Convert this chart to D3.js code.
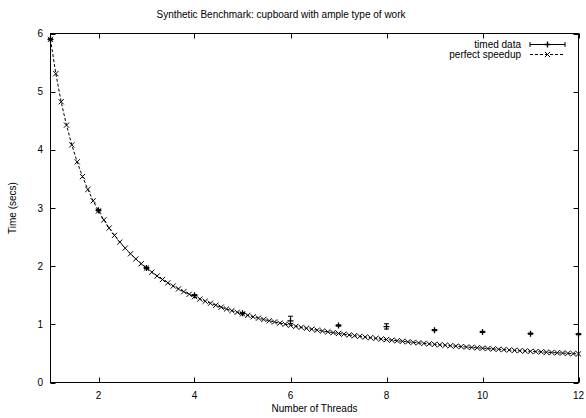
<meta charset='utf-8'>
<script src="https://d3js.org/d3.v7.min.js"></script>
<style>
body { margin: 0; background: #fff; }
text { font-family: 'Liberation Sans', Arial, sans-serif; font-size: 10px; fill: #000; }
</style>
<body></body>
<script>

// DATA
var xTicks = [2, 4, 6, 8, 10, 12];
var yTicks = [0, 1, 2, 3, 4, 5, 6];

// timed data (mean with low/high error)
var timedX    = [1, 2, 3, 4, 5, 6, 7, 8, 9, 10, 11, 12];
var timedY    = [5.90, 2.96, 1.97, 1.50, 1.19, 1.06, 0.98, 0.96, 0.90, 0.87, 0.84, 0.83];
var timedLow  = [5.89, 2.95, 1.96, 1.49, 1.18, 1.01, 0.97, 0.92, 0.89, 0.86, 0.83, 0.82];
var timedHigh = [5.91, 2.97, 1.98, 1.51, 1.20, 1.14, 0.99, 1.01, 0.91, 0.88, 0.85, 0.84];

// perfect speedup samples
var perfX = [1, 1.111, 1.222, 1.333, 1.444, 1.556, 1.667, 1.778, 1.889,
    2, 2.111, 2.222, 2.333, 2.444, 2.556, 2.667, 2.778, 2.889,
    3, 3.111, 3.222, 3.333, 3.444, 3.556, 3.667, 3.778, 3.889,
    4, 4.111, 4.222, 4.333, 4.444, 4.556, 4.667, 4.778, 4.889,
    5, 5.111, 5.222, 5.333, 5.444, 5.556, 5.667, 5.778, 5.889,
    6, 6.111, 6.222, 6.333, 6.444, 6.556, 6.667, 6.778, 6.889,
    7, 7.111, 7.222, 7.333, 7.444, 7.556, 7.667, 7.778, 7.889,
    8, 8.111, 8.222, 8.333, 8.444, 8.556, 8.667, 8.778, 8.889,
    9, 9.111, 9.222, 9.333, 9.444, 9.556, 9.667, 9.778, 9.889,
    10, 10.111, 10.222, 10.333, 10.444, 10.556, 10.667, 10.778, 10.889,
    11, 11.111, 11.222, 11.333, 11.444, 11.556, 11.667, 11.778, 11.889,
    12];
var perfY = [5.900, 5.310, 4.827, 4.425, 4.085, 3.793, 3.540, 3.319, 3.124,
    2.950, 2.795, 2.655, 2.529, 2.414, 2.309, 2.213, 2.124, 2.042, 1.967,
    1.896, 1.831, 1.770, 1.713, 1.659, 1.609, 1.562, 1.517, 1.475, 1.435,
    1.397, 1.362, 1.328, 1.295, 1.264, 1.235, 1.207, 1.180, 1.154, 1.130,
    1.106, 1.084, 1.062, 1.041, 1.021, 1.002, 0.983, 0.965, 0.948, 0.932,
    0.916, 0.900, 0.885, 0.871, 0.857, 0.843, 0.830, 0.817, 0.805, 0.793,
    0.781, 0.770, 0.759, 0.748, 0.738, 0.727, 0.718, 0.708, 0.699, 0.690,
    0.681, 0.672, 0.664, 0.656, 0.648, 0.640, 0.632, 0.625, 0.617, 0.610,
    0.603, 0.597, 0.590, 0.584, 0.577, 0.571, 0.565, 0.559, 0.553, 0.547,
    0.542, 0.536, 0.531, 0.526, 0.521, 0.516, 0.511, 0.506, 0.501, 0.496,
    0.492];

// SETUP
var W = 586, H = 418;
var pL = 50.5, pR = 578.5, pT = 33.5, pB = 382.5;
var svg = d3.select('body').append('svg')
    .attr('width', W)
    .attr('height', H);

var x = d3.scaleLinear().domain([1, 12]).range([pL, pR]);
var y = d3.scaleLinear().domain([0, 6]).range([pB, pT]);
var tk = 5;

// TICKS (mirrored on all four sides, pointing inward)
var ticks = svg.append('g').attr('stroke', '#000').attr('stroke-width', 1);
xTicks.forEach(function (t) {
    var px = Math.round(x(t)) + 0.5;
    ticks.append('line').attr('x1', px).attr('x2', px).attr('y1', pB).attr('y2', pB - tk);
    ticks.append('line').attr('x1', px).attr('x2', px).attr('y1', pT).attr('y2', pT + tk);
    svg.append('text')
        .attr('x', x(t)).attr('y', pB + 16)
        .attr('text-anchor', 'middle')
        .text(t);
});
yTicks.forEach(function (t) {
    var py = Math.round(y(t)) + 0.5;
    ticks.append('line').attr('x1', pL).attr('x2', pL + tk).attr('y1', py).attr('y2', py);
    ticks.append('line').attr('x1', pR).attr('x2', pR - tk).attr('y1', py).attr('y2', py);
    svg.append('text')
        .attr('x', 43).attr('y', y(t) + 3.5)
        .attr('text-anchor', 'end')
        .text(t);
});

// BORDER
svg.append('rect')
    .attr('x', pL).attr('y', pT)
    .attr('width', pR - pL).attr('height', pB - pT)
    .attr('fill', 'none').attr('stroke', '#000').attr('stroke-width', 1);

// LABELS
svg.append('text')
    .attr('x', 281).attr('y', 18)
    .attr('text-anchor', 'middle')
    .text('Synthetic Benchmark: cupboard with ample type of work');
svg.append('text')
    .attr('x', (pL + pR) / 2).attr('y', 412)
    .attr('text-anchor', 'middle')
    .text('Number of Threads');
svg.append('text')
    .attr('transform', 'translate(16,' + ((pT + pB) / 2) + ') rotate(-90)')
    .attr('text-anchor', 'middle')
    .text('Time (secs)');

// marker helpers
function cross(g, cx, cy, s) {
    g.append('path')
        .attr('d', 'M' + (cx - s) + ',' + (cy - s) + 'L' + (cx + s) + ',' + (cy + s) +
                   'M' + (cx - s) + ',' + (cy + s) + 'L' + (cx + s) + ',' + (cy - s))
        .attr('stroke', '#000').attr('stroke-width', 1).attr('fill', 'none');
}
function plus(g, cx, cy, s) {
    g.append('path')
        .attr('d', 'M' + (cx - s) + ',' + cy + 'H' + (cx + s) + 'M' + cx + ',' + (cy - s) + 'V' + (cy + s))
        .attr('stroke', '#000').attr('stroke-width', 1.3).attr('fill', 'none');
}

var plot = svg.append('g');

// PERFECT SPEEDUP
var perf = perfX.map(function (d, i) { return [d, perfY[i]]; });
plot.append('path')
    .datum(perf)
    .attr('d', d3.line().x(function (d) { return x(d[0]); }).y(function (d) { return y(d[1]); }))
    .attr('fill', 'none')
    .attr('stroke', '#000')
    .attr('stroke-width', 1)
    .attr('stroke-dasharray', '3,2');
perf.forEach(function (d) { cross(plot, x(d[0]), y(d[1]), 2.6); });

// TIMED DATA with error bars
timedX.forEach(function (t, i) {
    var px = x(t), cap = 2.5;
    plot.append('path')
        .attr('d', 'M' + px + ',' + y(timedLow[i]) + 'V' + y(timedHigh[i]) +
                   'M' + (px - cap) + ',' + y(timedLow[i]) + 'H' + (px + cap) +
                   'M' + (px - cap) + ',' + y(timedHigh[i]) + 'H' + (px + cap))
        .attr('stroke', '#000').attr('stroke-width', 1).attr('fill', 'none');
    plus(plot, px, y(timedY[i]), 3);
});

// LEGEND
var lg = svg.append('g');
var lx1 = 530, lx2 = 565, lmid = (lx1 + lx2) / 2;
lg.append('text').attr('x', 521).attr('y', 47.5).attr('text-anchor', 'end').text('timed data');
lg.append('path')
    .attr('d', 'M' + lx1 + ',44.5H' + lx2 + 'M' + lx1 + ',42V47M' + lx2 + ',42V47')
    .attr('stroke', '#000').attr('stroke-width', 1).attr('fill', 'none');
plus(lg, lmid, 44.5, 3);
lg.append('text').attr('x', 521).attr('y', 58).attr('text-anchor', 'end').text('perfect speedup');
lg.append('line')
    .attr('x1', lx1).attr('x2', lx2).attr('y1', 54.5).attr('y2', 54.5)
    .attr('stroke', '#000').attr('stroke-width', 1).attr('stroke-dasharray', '3,2');
cross(lg, lmid, 54.5, 2.6);

</script>
